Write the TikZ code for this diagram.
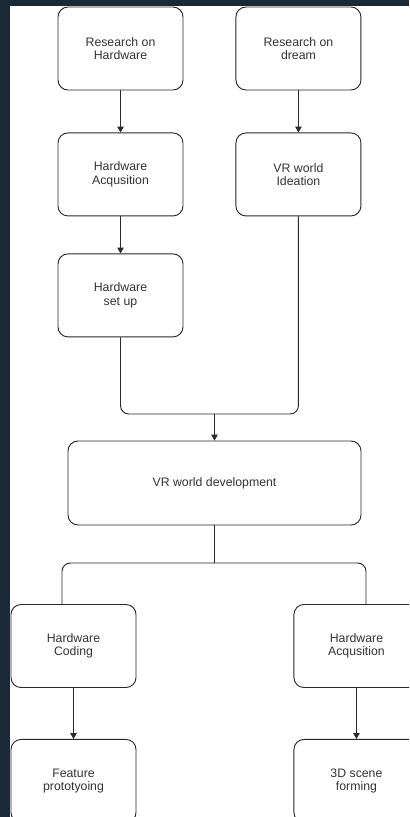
\documentclass[tikz,border=0pt]{standalone}
\usepackage{fontspec}
\setmainfont{Liberation Sans}
\usepackage{tikz}
\usetikzlibrary{positioning,arrows.meta}
\definecolor{darkback}{HTML}{1B2838}
\definecolor{boxline}{HTML}{2A2A2A}
\definecolor{boxtext}{HTML}{333333}

\begin{document}
\begin{tikzpicture}[
                x=0.03cm, y=-0.03cm,
                stepbox/.style={rectangle, rounded corners=0.3cm, draw=boxline, line width=0.8pt, fill=white, text=boxtext, align=center, minimum width=3.75cm, minimum height=2.49cm, font=\fontsize{10.5}{11.5}\selectfont},
                widebox/.style={stepbox, minimum width=8.79cm, minimum height=2.52cm},
                link/.style={draw=boxline, line width=0.8pt, rounded corners=0.25cm},
                >={Triangle[length=5pt,width=5.5pt]},
            ]
            \useasboundingbox (0,0) rectangle (409,817);
            \clip (0,0) rectangle (409,817);
            \fill[darkback] (0,0) rectangle (409,817);
            \fill[white] (10,6) rectangle (409,817);

            %Nodes
            \node[stepbox]       (hwresearch)     at (120.5,48.5)                 {Research on\\Hardware};
            \node[stepbox]       (dreamresearch)  [right=1.56cm of hwresearch]    {Research on\\dream};
            \node[stepbox]       (hwacq)          [below=1.26cm of hwresearch]    {Hardware\\Acqusition};
            \node[stepbox]       (ideation)       [below=1.26cm of dreamresearch] {VR world\\Ideation};
            \node[stepbox]       (hwsetup)        [below=1.11cm of hwacq]         {Hardware\\set up};
            \node[widebox]       (vrdev)          at (214.5,483)                  {VR world development};
            \node[stepbox]       (hwcoding)       at (73.5,646)                   {Hardware\\Coding};
            \node[stepbox]       (hwacqb)         [right=4.71cm of hwcoding]      {Hardware\\Acqusition};
            \node[stepbox]       (prototype)      [below=1.53cm of hwcoding]      {Feature\\prototyoing};
            \node[stepbox]       (sceneform)      [below=1.53cm of hwacqb]        {3D scene\\forming};

            \coordinate (merge) at (214.5,414);
            \coordinate (split) at (214.5,563);
            \coordinate (leftbar) at (62,563);
            \coordinate (rightbar) at (366,563);

            %Lines
            \draw[link,->] (hwresearch) -- (hwacq);
            \draw[link,->] (dreamresearch) -- (ideation);
            \draw[link,->] (hwacq) -- (hwsetup);
            \draw[link] (hwsetup.south) |- (merge) -| (ideation.south);
            \draw[link,->] (merge) -- (vrdev);
            \draw[link] (vrdev.south) -- (split);
            \draw[link] (leftbar |- hwcoding.north) |- (split) -| (rightbar |- hwacqb.north);
            \draw[link,->] (hwcoding) -- (prototype);
            \draw[link,->] (hwacqb) -- (sceneform);
        \end{tikzpicture}
\end{document}
